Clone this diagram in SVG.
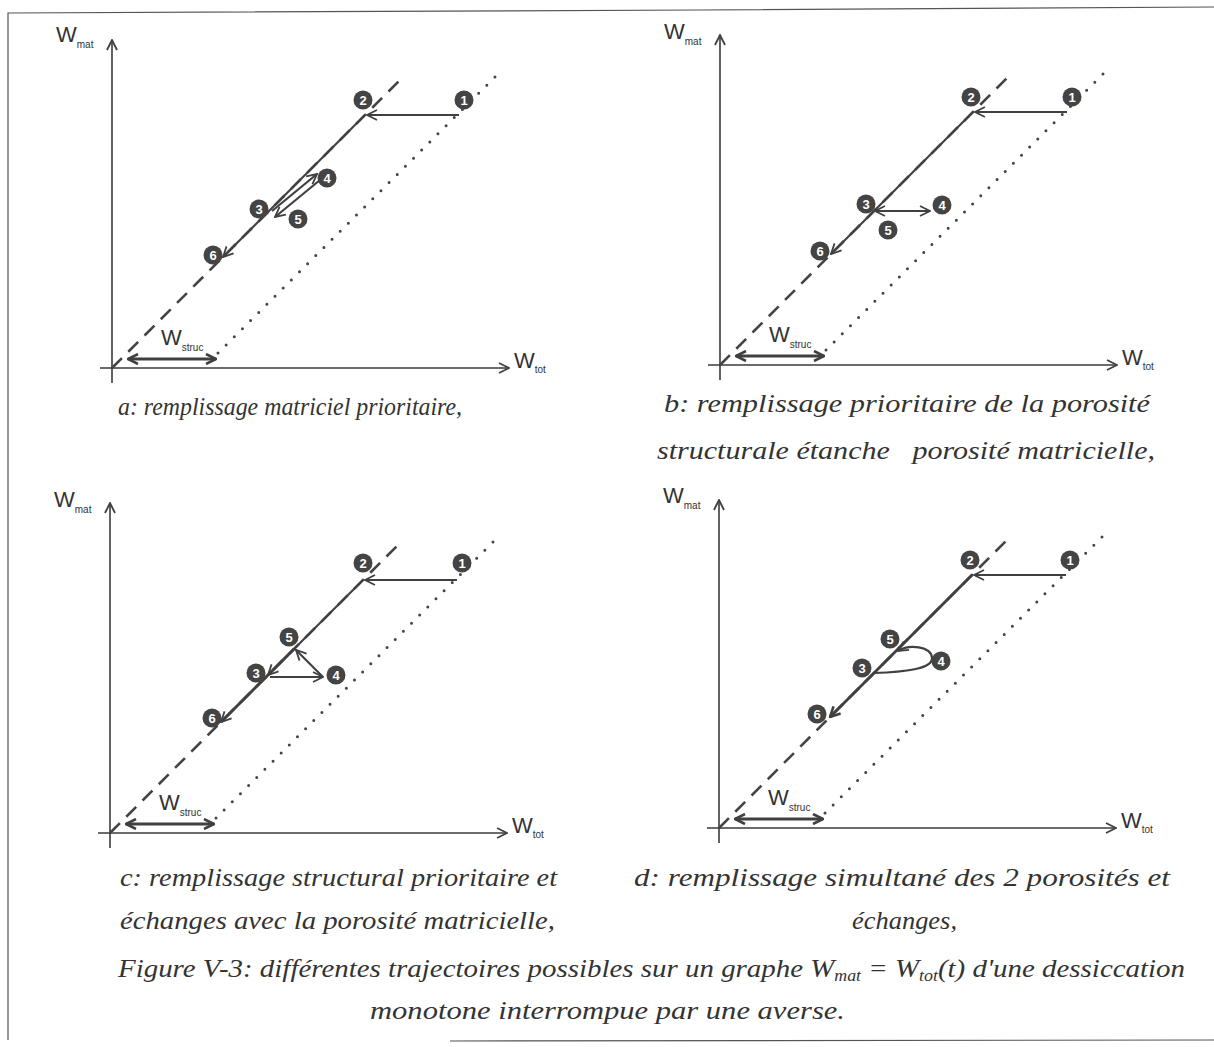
<svg xmlns="http://www.w3.org/2000/svg" width="1214" height="1047" viewBox="0 0 1214 1047">
<style>
.ax{stroke:#3a3a3a;stroke-width:1.6;fill:none}
.tr{stroke:#404040;stroke-width:2.2;fill:none}
.th{stroke:#404040;stroke-width:2.8;fill:none}
.dash{stroke:#444;stroke-width:2.6;stroke-dasharray:14 9;fill:none}
.dot{stroke:#444;stroke-width:3;stroke-dasharray:0 11.5;stroke-linecap:round;fill:none}
.lbl{font-family:"Liberation Sans","DejaVu Sans",sans-serif;fill:#333}
.W{font-size:22px}
.sub{font-size:10px}
.nd circle{fill:#444}
.nd text{font-family:"Liberation Sans","DejaVu Sans",sans-serif;font-size:13px;font-weight:bold;fill:#fff;text-anchor:middle}
.cap{font-family:"Liberation Serif","Times New Roman",serif;font-style:italic;font-size:26px;fill:#333;white-space:pre}
.bd{stroke:#555;stroke-width:1.2;fill:none}
</style>
<defs>
<marker id="ah" viewBox="0 0 12 12" refX="11" refY="6" markerWidth="12" markerHeight="12" markerUnits="userSpaceOnUse" orient="auto-start-reverse">
<path d="M1,1 L11,6 L1,11" fill="none" stroke="#404040" stroke-width="1.8" stroke-linejoin="miter"/>
</marker>
<marker id="ahb" viewBox="0 0 12 12" refX="11" refY="6" markerWidth="12" markerHeight="12" markerUnits="userSpaceOnUse" orient="auto-start-reverse">
<path d="M1,1 L11,6 L1,11" fill="none" stroke="#404040" stroke-width="2.6" stroke-linejoin="miter"/>
</marker>
</defs>

<g id="frame">
<path class="bd" d="M8,1040 L8,13 L700,10 L1214,7"/>
<path class="bd" d="M450,1041 L1214,1040"/>
</g>

<!-- Panel a -->
<g id="panel-a" transform="translate(112,368)">
<g id="a-axes">
<line class="ax" x1="0" y1="15" x2="0" y2="-328" marker-end="url(#ah)"/>
<line class="ax" x1="-12" y1="0" x2="397" y2="0" marker-end="url(#ah)"/>
<line class="dash" x1="0" y1="0" x2="292" y2="-292"/>
<line class="dot" x1="106" y1="-15" x2="385" y2="-293"/>
<line class="th" x1="16" y1="-9" x2="104" y2="-9" marker-start="url(#ahb)" marker-end="url(#ahb)"/>
</g>
<g id="a-labels" class="lbl">
<text class="W" x="-56" y="-326">W<tspan class="sub" dy="6">mat</tspan></text>
<text class="W" x="402" y="0">W<tspan class="sub" dy="5">tot</tspan></text>
<text class="W" x="49" y="-23">W<tspan class="sub" dy="6">struc</tspan></text>
</g>
<g id="a-connectors">
<line class="tr" x1="347" y1="-253" x2="255" y2="-253" marker-end="url(#ah)"/>
<line class="tr" x1="253" y1="-253" x2="111" y2="-111" marker-end="url(#ah)"/>
<line class="tr" x1="160" y1="-157" x2="205" y2="-194" marker-end="url(#ah)"/>
<line class="tr" x1="208" y1="-188" x2="163" y2="-151" marker-end="url(#ah)"/>
</g>
<g id="a-n1" class="nd"><circle cx="352" cy="-268" r="9.5"/><text x="352" y="-263.5">1</text></g>
<g id="a-n2" class="nd"><circle cx="251" cy="-268" r="9.5"/><text x="251" y="-263.5">2</text></g>
<g id="a-n3" class="nd"><circle cx="147" cy="-159" r="9.5"/><text x="147" y="-154.5">3</text></g>
<g id="a-n4" class="nd"><circle cx="215" cy="-190" r="9.5"/><text x="215" y="-185.5">4</text></g>
<g id="a-n5" class="nd"><circle cx="186" cy="-149" r="9.5"/><text x="186" y="-144.5">5</text></g>
<g id="a-n6" class="nd"><circle cx="101" cy="-113" r="9.5"/><text x="101" y="-108.5">6</text></g>
</g>

<!-- Panel b -->
<g id="panel-b" transform="translate(720,365)">
<g id="b-axes">
<line class="ax" x1="0" y1="15" x2="0" y2="-330" marker-end="url(#ah)"/>
<line class="ax" x1="-12" y1="0" x2="397" y2="0" marker-end="url(#ah)"/>
<line class="dash" x1="0" y1="0" x2="292" y2="-292"/>
<line class="dot" x1="106" y1="-15" x2="385" y2="-293"/>
<line class="th" x1="16" y1="-9" x2="104" y2="-9" marker-start="url(#ahb)" marker-end="url(#ahb)"/>
</g>
<g id="b-labels" class="lbl">
<text class="W" x="-56" y="-326">W<tspan class="sub" dy="6">mat</tspan></text>
<text class="W" x="402" y="0">W<tspan class="sub" dy="5">tot</tspan></text>
<text class="W" x="49" y="-23">W<tspan class="sub" dy="6">struc</tspan></text>
</g>
<g id="b-connectors">
<line class="tr" x1="347" y1="-253" x2="255" y2="-253" marker-end="url(#ah)"/>
<line class="tr" x1="253" y1="-253" x2="111" y2="-111" marker-end="url(#ah)"/>
<line class="tr" x1="155" y1="-154" x2="210" y2="-154" marker-start="url(#ah)" marker-end="url(#ah)"/>
</g>
<g id="b-n1" class="nd"><circle cx="352" cy="-268" r="9.5"/><text x="352" y="-263.5">1</text></g>
<g id="b-n2" class="nd"><circle cx="251" cy="-268" r="9.5"/><text x="251" y="-263.5">2</text></g>
<g id="b-n3" class="nd"><circle cx="146" cy="-161" r="9.5"/><text x="146" y="-156.5">3</text></g>
<g id="b-n4" class="nd"><circle cx="222" cy="-160" r="9.5"/><text x="222" y="-155.5">4</text></g>
<g id="b-n5" class="nd"><circle cx="168" cy="-135" r="9.5"/><text x="168" y="-130.5">5</text></g>
<g id="b-n6" class="nd"><circle cx="100" cy="-114" r="9.5"/><text x="100" y="-109.5">6</text></g>
</g>

<!-- Panel c -->
<g id="panel-c" transform="translate(110,833)">
<g id="c-axes">
<line class="ax" x1="0" y1="15" x2="0" y2="-330" marker-end="url(#ah)"/>
<line class="ax" x1="-12" y1="0" x2="397" y2="0" marker-end="url(#ah)"/>
<line class="dash" x1="0" y1="0" x2="292" y2="-292"/>
<line class="dot" x1="106" y1="-15" x2="385" y2="-293"/>
<line class="th" x1="16" y1="-9" x2="104" y2="-9" marker-start="url(#ahb)" marker-end="url(#ahb)"/>
</g>
<g id="c-labels" class="lbl">
<text class="W" x="-56" y="-326">W<tspan class="sub" dy="6">mat</tspan></text>
<text class="W" x="402" y="0">W<tspan class="sub" dy="5">tot</tspan></text>
<text class="W" x="49" y="-23">W<tspan class="sub" dy="6">struc</tspan></text>
</g>
<g id="c-connectors">
<line class="tr" x1="347" y1="-253" x2="255" y2="-253" marker-end="url(#ah)"/>
<line class="tr" x1="253" y1="-253" x2="111" y2="-111" marker-end="url(#ah)"/>
<line class="th" x1="184" y1="-184" x2="111" y2="-111"/>
<line class="tr" x1="184" y1="-184" x2="158" y2="-158" marker-end="url(#ah)"/>
<line class="tr" x1="160" y1="-156" x2="213" y2="-156" marker-end="url(#ah)"/>
<line class="tr" x1="213" y1="-156" x2="186" y2="-183" marker-end="url(#ah)"/>
</g>
<g id="c-n1" class="nd"><circle cx="352" cy="-270" r="9.5"/><text x="352" y="-265.5">1</text></g>
<g id="c-n2" class="nd"><circle cx="253" cy="-270" r="9.5"/><text x="253" y="-265.5">2</text></g>
<g id="c-n3" class="nd"><circle cx="146" cy="-160" r="9.5"/><text x="146" y="-155.5">3</text></g>
<g id="c-n4" class="nd"><circle cx="226" cy="-158" r="9.5"/><text x="226" y="-153.5">4</text></g>
<g id="c-n5" class="nd"><circle cx="179" cy="-196" r="9.5"/><text x="179" y="-191.5">5</text></g>
<g id="c-n6" class="nd"><circle cx="102" cy="-115" r="9.5"/><text x="102" y="-110.5">6</text></g>
</g>

<!-- Panel d -->
<g id="panel-d" transform="translate(719,828)">
<g id="d-axes">
<line class="ax" x1="0" y1="15" x2="0" y2="-328" marker-end="url(#ah)"/>
<line class="ax" x1="-12" y1="0" x2="397" y2="0" marker-end="url(#ah)"/>
<line class="dash" x1="0" y1="0" x2="292" y2="-292"/>
<line class="dot" x1="106" y1="-15" x2="385" y2="-293"/>
<line class="th" x1="16" y1="-9" x2="104" y2="-9" marker-start="url(#ahb)" marker-end="url(#ahb)"/>
</g>
<g id="d-labels" class="lbl">
<text class="W" x="-56" y="-325">W<tspan class="sub" dy="6">mat</tspan></text>
<text class="W" x="402" y="0">W<tspan class="sub" dy="5">tot</tspan></text>
<text class="W" x="49" y="-23">W<tspan class="sub" dy="6">struc</tspan></text>
</g>
<g id="d-connectors">
<line class="tr" x1="347" y1="-253" x2="255" y2="-253" marker-end="url(#ah)"/>
<line class="th" x1="253" y1="-253" x2="111" y2="-111" marker-end="url(#ahb)"/>
<path class="tr" d="M155,-155 C185,-156 214,-159 213,-170 C212,-182 190,-184 179,-177" marker-end="url(#ah)"/>
</g>
<g id="d-n1" class="nd"><circle cx="351" cy="-268" r="9.5"/><text x="351" y="-263.5">1</text></g>
<g id="d-n2" class="nd"><circle cx="251" cy="-268" r="9.5"/><text x="251" y="-263.5">2</text></g>
<g id="d-n3" class="nd"><circle cx="143" cy="-160" r="9.5"/><text x="143" y="-155.5">3</text></g>
<g id="d-n4" class="nd"><circle cx="222" cy="-167" r="9.5"/><text x="222" y="-162.5">4</text></g>
<g id="d-n5" class="nd"><circle cx="171" cy="-189" r="9.5"/><text x="171" y="-184.5">5</text></g>
<g id="d-n6" class="nd"><circle cx="98" cy="-114" r="9.5"/><text x="98" y="-109.5">6</text></g>
</g>

<g id="captions">
<text class="cap" x="118" y="415" textLength="344" lengthAdjust="spacingAndGlyphs">a: remplissage matriciel prioritaire,</text>
<text class="cap" x="664" y="412" textLength="486" lengthAdjust="spacingAndGlyphs">b: remplissage prioritaire de la porosité</text>
<text class="cap" x="657" y="459" textLength="498" lengthAdjust="spacingAndGlyphs">structurale étanche   porosité matricielle,</text>
<text class="cap" x="120" y="886" textLength="437" lengthAdjust="spacingAndGlyphs">c: remplissage structural prioritaire et</text>
<text class="cap" x="120" y="929" textLength="435" lengthAdjust="spacingAndGlyphs">échanges avec la porosité matricielle,</text>
<text class="cap" x="634" y="886" textLength="536" lengthAdjust="spacingAndGlyphs">d: remplissage simultané des 2 porosités et</text>
<text class="cap" x="852" y="929" textLength="105" lengthAdjust="spacingAndGlyphs">échanges,</text>
<text class="cap" x="118" y="977" textLength="1067" lengthAdjust="spacingAndGlyphs">Figure V-3: différentes trajectoires possibles sur un graphe W<tspan font-size="16" dy="4">mat</tspan><tspan dy="-4"> = W</tspan><tspan font-size="16" dy="4">tot</tspan><tspan dy="-4">(t) d'une dessiccation</tspan></text>
<text class="cap" x="370" y="1019" textLength="475" lengthAdjust="spacingAndGlyphs">monotone interrompue par une averse.</text>
</g>
</svg>
